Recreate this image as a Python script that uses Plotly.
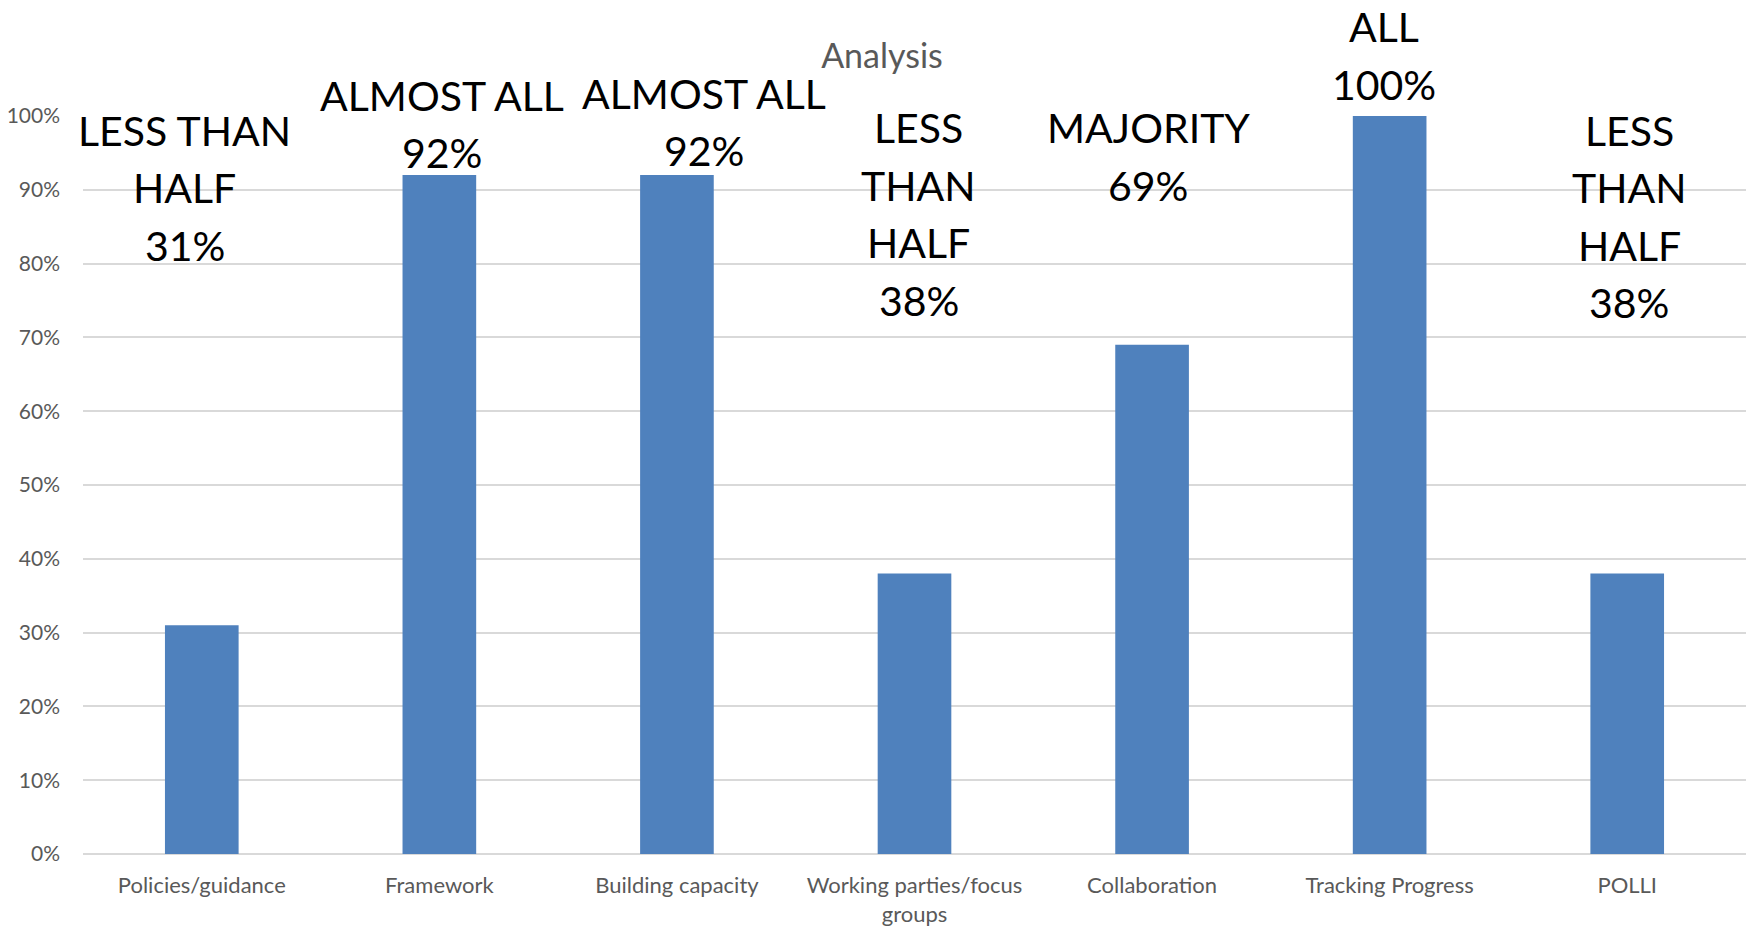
import plotly.graph_objects as go

# ---- data ----
categories = ["Policies/guidance", "Framework", "Building capacity",
              "Working parties/focus<br>groups", "Collaboration",
              "Tracking Progress", "POLLI"]
values = [0.31, 0.92, 0.92, 0.38, 0.69, 1.00, 0.38]
qualifiers = [["LESS THAN", "HALF"], ["ALMOST ALL"], ["ALMOST ALL"],
              ["LESS", "THAN", "HALF"], ["MAJORITY"], ["ALL"],
              ["LESS", "THAN", "HALF"]]
y_ticks = [0, 0.1, 0.2, 0.3, 0.4, 0.5, 0.6, 0.7, 0.8, 0.9, 1.0]

# ---- label placement (layout only) ----
label_top = [0.981, 1.028, 1.031, 0.984, 0.984, 1.121, 0.981]  # first-line centre, paper units
label_xshift = [-17, 3, 27, 4, -4, -6, 2]
line_step = 57.5

BAR = "#4F81BD"
GRID = "#D9D9D9"
GREY = "#595959"
FONT = "Lato"

fig = go.Figure()
fig.add_trace(go.Bar(x=categories, y=values, marker=dict(color=BAR, line=dict(width=0)),
                     hoverinfo="skip"))

annotations = []
for i, cat in enumerate(categories):
    lines = qualifiers[i] + [f"{round(values[i] * 100)}%"]
    for j, line in enumerate(lines):
        annotations.append(dict(
            x=cat, y=label_top[i], xref="x", yref="paper", text=line, showarrow=False,
            xanchor="center", yanchor="middle", xshift=label_xshift[i],
            yshift=-j * line_step, font=dict(family=FONT, size=41, color="#000000")))

fig.update_layout(
    width=1746, height=928,
    margin=dict(l=83, r=0, t=116, b=74, autoexpand=False),
    paper_bgcolor="white", plot_bgcolor="white",
    bargap=0.69, showlegend=False,
    title=dict(text="Analysis", x=882 / 1746, xref="container", xanchor="center",
               y=1 - 56 / 928, yref="container", yanchor="middle",
               font=dict(family=FONT, size=34, color=GREY)),
    font=dict(family=FONT, color=GREY),
    annotations=annotations,
)
fig.update_xaxes(showgrid=False, showline=False, ticks="", zeroline=False,
                 automargin=False, range=[-0.5, len(categories) - 0.5],
                 tickfont=dict(family=FONT, size=22, color=GREY),
                 ticklabelstandoff=16)
fig.update_yaxes(range=[0, 1], tickvals=y_ticks, tickformat=".0%",
                 showgrid=True, gridcolor=GRID, gridwidth=2,
                 zeroline=True, zerolinecolor=GRID, zerolinewidth=2,
                 showline=False, ticks="", automargin=False,
                 tickfont=dict(family=FONT, size=21, color=GREY),
                 ticklabelstandoff=22)

fig.write_html("out.html")
